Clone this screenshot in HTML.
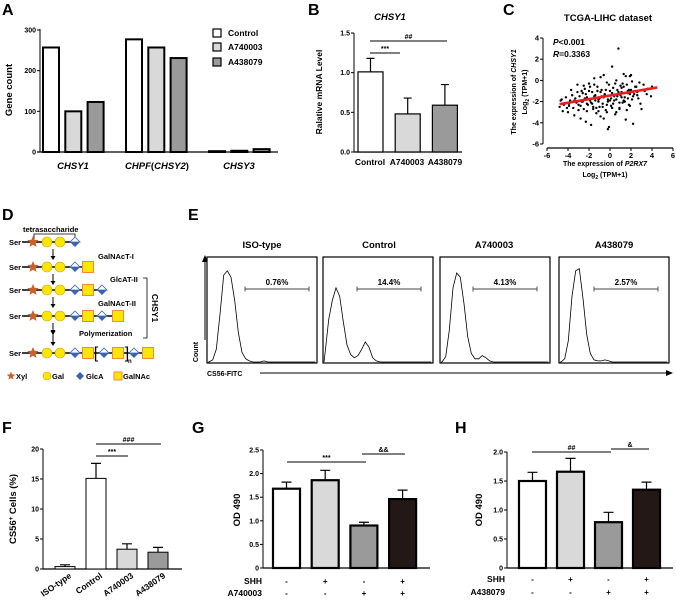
<!DOCTYPE html>
<html><head><meta charset="utf-8"><style>
html,body{margin:0;padding:0;background:#fff}
svg{display:block;font-family:"Liberation Sans",Arial,sans-serif;font-weight:bold}
.t7{font-size:7px}.t8{font-size:8.5px}.t9{font-size:9.5px}.L{font-size:16px}
</style></head><body>
<svg id="fig" width="676" height="603" viewBox="0 0 676 603">
<text class="L" x="2" y="15">A</text>
<text class="L" x="308" y="15">B</text>
<text class="L" x="503" y="15">C</text>
<text class="L" x="2" y="220">D</text>
<text class="L" x="188" y="220">E</text>
<text class="L" x="2" y="433">F</text>
<text class="L" x="192" y="433">G</text>
<text class="L" x="455" y="433">H</text>

<text class="t9" transform="translate(12,90) rotate(-90)" text-anchor="middle">Gene count</text>
<text class="t9" x="73" y="169" text-anchor="middle" font-style="italic">CHSY1</text>
<text class="t9" x="157" y="169" text-anchor="middle"><tspan font-style="italic">CHPF</tspan>(<tspan font-style="italic">CHSY2</tspan>)</text>
<text class="t9" x="239" y="169" text-anchor="middle" font-style="italic">CHSY3</text>
<g>
<rect x="213" y="29" width="8" height="8" fill="#fff" stroke="#000" stroke-width="1.2"/>
<text class="t8" x="228" y="36">Control</text>
<rect x="213" y="43" width="8" height="8" fill="#d9d9d9" stroke="#000" stroke-width="1.2"/>
<text class="t8" x="228" y="50">A740003</text>
<rect x="213" y="58" width="8" height="8" fill="#9a9a9a" stroke="#000" stroke-width="1.2"/>
<text class="t8" x="228" y="65">A438079</text>
</g>

<text class="t9" x="390" y="20" text-anchor="middle" font-style="italic">CHSY1</text>
<text class="t8" transform="translate(322,92) rotate(-90)" text-anchor="middle">Ralative mRNA Level</text>
<text class="t8" x="370" y="165" text-anchor="middle">Control</text>
<text class="t8" x="407" y="165" text-anchor="middle">A740003</text>
<text class="t8" x="445" y="165" text-anchor="middle">A438079</text>

<text class="t9" x="608" y="21" text-anchor="middle">TCGA-LIHC dataset</text>
<text class="t8" x="553" y="45"><tspan font-style="italic">P</tspan>&lt;0.001</text>
<text class="t8" x="553" y="57"><tspan font-style="italic">R</tspan>=0.3363</text>
<text class="t7" transform="translate(516,92) rotate(-90)" text-anchor="middle">The expression of <tspan font-style="italic">CHSY1</tspan></text>
<text class="t7" transform="translate(527,92) rotate(-90)" text-anchor="middle">Log<tspan font-size="5" dy="2">2</tspan><tspan dy="-2"> (TPM+1)</tspan></text>
<text class="t7" x="605" y="166" text-anchor="middle">The expression of <tspan font-style="italic">P2RX7</tspan></text>
<text class="t7" x="605" y="177" text-anchor="middle">Log<tspan font-size="5" dy="2">2</tspan><tspan dy="-2"> (TPM+1)</tspan></text>

<g font-size="7.5">
<text x="23" y="232">tetrasaccharide</text>
<path d="M34,239 V234 H75 V239" fill="none" stroke="#000" stroke-width="0.8"/>
<text x="98" y="259">GalNAcT-I</text>
<text x="110" y="282">GlcAT-II</text>
<text x="98" y="306">GalNAcT-II</text>
<text x="79" y="336">Polymerization</text>
<path d="M143,278 H147 V338 H143" fill="none" stroke="#000" stroke-width="0.8"/>
<text transform="translate(152,308) rotate(90)" text-anchor="middle" font-size="8.5">CHSY1</text>
<g id="dRows"></g>
<g>
<text x="16" y="379">Xyl</text>
<text x="52" y="379">Gal</text>
<text x="86" y="379">GlcA</text>
<text x="123" y="379">GalNAc</text>
</g>
</g>

<text class="t9" x="262" y="248" text-anchor="middle">ISO-type</text>
<text class="t9" x="379" y="248" text-anchor="middle">Control</text>
<text class="t9" x="494" y="248" text-anchor="middle">A740003</text>
<text class="t9" x="614" y="248" text-anchor="middle">A438079</text>
<text class="t7" transform="translate(198,352) rotate(-90)" text-anchor="middle">Count</text>
<path d="M205,340 V260" stroke="#000" stroke-width="1"/>
<path d="M202,262 L205,255 L208,262 Z" fill="#000"/>
<text class="t7" x="207" y="376">CS56-FITC</text>
<path d="M260,373 H668" stroke="#000" stroke-width="1"/>
<path d="M666,370 L673,373 L666,376 Z" fill="#000"/>

<text class="t9" transform="translate(16,509) rotate(-90)" text-anchor="middle">CS56<tspan font-size="6" dy="-3">+</tspan><tspan dy="3"> Cells (%)</tspan></text>
<text class="t8" transform="translate(72,577) rotate(-35)" text-anchor="end">ISO-type</text>
<text class="t8" transform="translate(103,577) rotate(-35)" text-anchor="end">Control</text>
<text class="t8" transform="translate(134,577) rotate(-35)" text-anchor="end">A740003</text>
<text class="t8" transform="translate(166,577) rotate(-35)" text-anchor="end">A438079</text>

<text class="t9" transform="translate(240,510) rotate(-90)" text-anchor="middle">OD 490</text>
<text class="t8" x="262" y="584" text-anchor="end">SHH</text>
<text class="t8" x="262" y="596" text-anchor="end">A740003</text>

<text class="t9" x="482" y="510" transform="rotate(-90,482,510)" text-anchor="middle">OD 490</text>
<text class="t8" x="505" y="582" text-anchor="end">SHH</text>
<text class="t8" x="505" y="595" text-anchor="end">A438079</text>
</svg>

<script>
const aGenes = ["CHSY1","CHPF(CHSY2)","CHSY3"];
const aControl = [257, 277, 2];
const aA740003 = [100, 257, 3];
const aA438079 = [123, 231, 7];
const aTicks = [0,100,200,300];
const bCategories = ["Control","A740003","A438079"];
const bMeans = [1.01, 0.48, 0.59];
const bErrors = [0.17, 0.20, 0.26];
const bTicks = [0, 0.5, 1.0, 1.5];
const bTickLabels = ["0.0","0.5","1.0","1.5"];
const cX1 = [-4.8,-4.6,-4.5,-4.3,-4.2,-4.0,-3.9,-3.8,-3.7,-3.5,-3.4,-3.3,-3.2,-3.1,-3.0,-2.9,-2.8,-2.7,-2.6,-2.5,-2.4,-2.3,-2.2,-2.1,-2.0,-1.9,-1.8,-1.7,-1.6,-1.5,-1.4,-1.3,-1.2,-1.1,-1.0,-0.9,-0.8,-0.7,-0.6,-0.5,-0.4,-0.3,-0.2,-0.1,0.0,0.1,0.2,0.3,0.4,0.5,0.6,0.7,0.8,0.9,1.0,1.1,1.2,1.3,1.4,1.5,1.6,1.7,1.8,1.9,2.0,2.1,2.2,2.4,2.6,2.8,3.0,3.3,3.6,4.0];
const cY1 = [-2.5,-1.8,-2.9,-2.2,-1.6,-3.0,-2.4,-1.9,-0.9,-2.6,-3.3,-1.7,-2.1,-0.4,-2.8,-1.5,-3.6,-2.0,-1.2,-2.7,-0.8,-3.9,-1.6,-2.3,-0.3,-1.9,-4.2,-1.1,-2.5,0.2,-1.4,-3.1,-0.6,-2.0,-1.7,-3.4,-0.9,-2.2,0.5,-1.3,-2.8,-0.2,-1.8,-4.4,-1.0,-2.4,1.3,-0.7,-1.9,-3.2,0.0,-1.5,3.0,-2.6,-0.5,-1.1,-2.1,0.6,-1.6,-3.7,-0.4,-1.2,-2.3,0.4,-0.9,-1.8,-4.1,-0.6,-1.4,-0.2,-2.7,-1.0,-0.8,-0.6];
const cX2 = [-4.7,-4.4,-4.1,-3.6,-3.3,-3.0,-2.7,-2.4,-2.2,-1.9,-1.7,-1.5,-1.3,-1.1,-0.9,-0.7,-0.5,-0.3,-0.1,0.1,0.3,0.5,0.7,0.9,1.1,1.3,1.5,1.7,1.9,2.1,2.3,2.5,2.7,2.9,3.2,3.5,3.9,-2.5,-1.2,-0.6,0.2,0.8,1.2,1.6,2.0,-3.8,-0.2,0.6,1.4,2.2];
const cY2 = [-1.9,-2.3,-2.6,-1.4,-2.0,-2.3,-1.0,-1.7,-2.9,-0.6,-2.2,-1.5,-2.6,-1.8,0.3,-2.5,-1.4,-3.0,-0.4,-1.7,-2.2,-0.3,-1.3,-2.7,-0.7,-1.9,0.4,-1.0,-2.4,-0.1,-1.3,-0.6,-1.7,-2.2,-0.4,-1.3,-1.5,-0.5,-1.0,-3.6,-2.6,-1.1,-0.3,-2.8,0.5,-1.9,-4.6,-3.0,-2.0,-1.1];
const cX3 = [-3.9,-3.4,-2.8,-2.3,-1.8,-1.4,-1.0,-0.6,-0.2,0.2,0.6,1.0,1.4,1.8,2.2,2.6,-2.0,-1.6,-0.8,-0.4,0.4,0.9,1.3,1.7,-3.1,-2.6,-1.1,0.0,1.1,2.4,-1.5,-0.3,0.7,1.9,-2.2,-0.9];
const cY3 = [-2.2,-1.9,-2.4,-1.3,-2.1,-1.9,-2.5,-1.6,-2.0,-1.2,-1.8,-1.4,-2.0,-0.9,-1.5,-1.1,-1.0,-2.7,-1.5,-0.9,-1.5,-2.1,-0.6,-1.7,-1.1,-2.0,-2.9,-1.9,-1.6,-1.0,-0.4,-2.3,-0.9,-1.3,-2.2,-1.1];
const cFit = [0.17, -1.43];
const cFitRange = [-4.8, 4.5];
const cXTicks = [-6,-4,-2,0,2,4,6];
const cYTicks = [4,2,0,-2,-4,-6];
const eNames = ["ISO-type","Control","A740003","A438079"];
const eIso = [0,2,12,45,82,86,80,58,28,9,3,1,0,0,0,1,0,0,0,0,0,0,0,0,0,0,0,0,0,0];
const eControl = [8,40,58,70,62,38,16,7,4,6,12,19,14,4,1,0,0,0,0,0,0,0,0,0,0,0,0,0,0,0];
const eA740003 = [0,5,30,70,84,80,55,24,8,3,3,6,4,1,0,0,0,0,0,0,0,0,0,0,0,0,0,0,0,0];
const eA438079 = [0,3,20,62,86,88,60,26,8,2,1,1,2,1,0,0,0,0,0,0,0,0,0,0,0,0,0,0,0,0];
const ePercents = ["0.76%","14.4%","4.13%","2.57%"];
const fCategories = ["ISO-type","Control","A740003","A438079"];
const fMeans = [0.4, 15.1, 3.3, 2.8];
const fErrors = [0.3, 2.5, 0.9, 0.8];
const fTicks = [0,5,10,15,20];
const gMeans = [1.68, 1.86, 0.90, 1.46];
const gErrors = [0.14, 0.21, 0.07, 0.19];
const gTicks = [0,0.5,1.0,1.5,2.0,2.5];
const gTickLabels = ["0","0.5","1.0","1.5","2.0","2.5"];
const gSHH = ["-","+","-","+"];
const gDrug = ["-","-","+","+"];
const hMeans = [1.50, 1.66, 0.79, 1.35];
const hErrors = [0.15, 0.23, 0.17, 0.13];
const hTicks = [0,0.5,1.0,1.5,2.0];
const hTickLabels = ["0","0.5","1.0","1.5","2.0"];
const hSHH = ["-","+","-","+"];
const hDrug = ["-","-","+","+"];

const NS="http://www.w3.org/2000/svg";
const svg=document.getElementById('fig');
function mk(tag,attrs,parent){const e=document.createElementNS(NS,tag);for(const k in attrs)e.setAttribute(k,attrs[k]);(parent||svg).appendChild(e);return e;}
function txt(s,attrs,parent){const e=mk('text',attrs,parent);e.textContent=s;return e;}

function yAxis(x,scale,ticks,labels,top,bottom,fs){
  const l=mk('line',{x1:x,y1:top,x2:x,y2:bottom,stroke:'#000','stroke-width':1});
  
  
  ticks.forEach((t,i)=>{const y=scale(t);
    mk('line',{x1:x-3,y1:y,x2:x,y2:y,stroke:'#000','stroke-width':1});
    const tl=txt(labels[i],{x:x-4,y:y+2.5,'text-anchor':'end','font-size':fs||7});
    
    
  });
}
function xAxis(y,x1,x2){
  const l=mk('line',{x1:x1,y1:y,x2:x2,y2:y,stroke:'#000','stroke-width':1.2});
  
  
}
function bar(x,w,v,scale,fill,sw){
  const y0=scale(0),y=scale(v);
  const r=mk('rect',{x:x,y:y,width:w,height:Math.max(0,y0-y),fill:fill,stroke:'#000','stroke-width':sw});
  
  
  return r;
}
function err(cx,v,e,scale,cap){
  const y=scale(v),ye=scale(v+e);
  const p=mk('path',{d:`M${cx},${y} V${ye} M${cx-cap},${ye} H${cx+cap}`,stroke:'#000','stroke-width':1.2,fill:'none'});
  
  
}
function sig(x1,x2,y,label){
  const l=mk('line',{x1:x1,y1:y,x2:x2,y2:y,stroke:'#000','stroke-width':0.9});
  
  
  const t=txt(label,{x:(x1+x2)/2,y:y-2,'text-anchor':'middle','font-size':7});
  
  
}

(function(){
  const sc=v=>152-v/300*122;
  yAxis(40,sc,aTicks,aTicks.map(String),29,152,7);
  xAxis(152,37,278);
  const series=[aControl,aA740003,aA438079], fills=['#fff','#d9d9d9','#9a9a9a'];
  aGenes.forEach((g,gi)=>{
    series.forEach((s,si)=>{
      const b=bar(43+gi*83+si*22.3,16,s[gi],sc,fills[si],2);
      
    });
  });
})();

(function(){
  const sc=v=>152-v/1.5*119;
  yAxis(354,sc,bTicks,bTickLabels,33,152,7);
  xAxis(152,354,462);
  const fills=['#fff','#d9d9d9','#9a9a9a'];
  bCategories.forEach((c,i)=>{
    const x=358+i*37.2;
    const b=bar(x,25,bMeans[i],sc,fills[i],1.2);
    
    err(x+12.5,bMeans[i],bErrors[i],sc,4);
  });
  sig(370,400,53,'***');
  sig(370,447,41,'##');
})();

(function(){
  const sx=v=>610+v*10.5, sy=v=>80.4-v*10.6;
  yAxis(543,sy,cYTicks,cYTicks.map(String),sy(4),sy(-6),7.5);
  xAxis(148,sx(-6),sx(6));
  cXTicks.forEach(t=>{mk('line',{x1:sx(t),y1:148,x2:sx(t),y2:151,stroke:'#000'});
    const tl=txt(String(t),{x:sx(t),y:158,'text-anchor':'middle','font-size':7.5});
    
    });
  const g=mk('g',{});
  
  
  [[cX1,cY1],[cX2,cY2],[cX3,cY3]].forEach(([xs,ys])=>{
    const n=Math.min(xs.length,ys.length);
    for(let i=0;i<n;i++){const c=mk('circle',{cx:sx(xs[i]),cy:sy(ys[i]),r:1.2,fill:'#000'},g);
      
      }
  });
  const l=mk('line',{x1:sx(cFitRange[0]),y1:sy(cFit[0]*cFitRange[0]+cFit[1]),x2:sx(cFitRange[1]),y2:sy(cFit[0]*cFitRange[1]+cFit[1]),stroke:'#e8201f','stroke-width':2.6});
  
  
})();

(function(){
  const g=document.getElementById('dRows');
  const star=(cx,cy,r)=>{let d='';for(let i=0;i<10;i++){const a=-Math.PI/2+i*Math.PI/5,rr=i%2?r*0.45:r;d+=(i?'L':'M')+(cx+rr*Math.cos(a)).toFixed(1)+','+(cy+rr*Math.sin(a)).toFixed(1);}
    mk('path',{d:d+'Z',fill:'#c8612a'},g);};
  const circ=(cx,cy)=>mk('circle',{cx:cx,cy:cy,r:5,fill:'#ffe600',stroke:'#c9a100','stroke-width':0.6},g);
  const dia=(cx,cy)=>{mk('path',{d:`M${cx},${cy-5}L${cx+5},${cy}L${cx-5},${cy}Z`,fill:'#fff',stroke:'#3a63b0','stroke-width':0.8},g);
    mk('path',{d:`M${cx-5},${cy}L${cx+5},${cy}L${cx},${cy+5}Z`,fill:'#3a63b0'},g);};
  const sq=(cx,cy)=>mk('rect',{x:cx-5.5,y:cy-5.5,width:11,height:11,fill:'#ffe600',stroke:'#f08a3c','stroke-width':1},g);
  const rows=[242,267,290,316,353];
  const layouts=[
    [['D',75]],
    [['D',75],['S',88]],
    [['D',75],['S',88],['D',102]],
    [['D',75],['S',88],['D',102],['S',118]],
    [['D',75],['S',88],['[',96],['D',104],['S',118],[']',127],['D',134],['S',148]]
  ];
  rows.forEach((y,ri)=>{
    const s=txt('Ser',{x:9,y:y+3,'font-size':7.5},g);
    
    
    const items=layouts[ri];
    const last=items[items.length-1][1];
    mk('line',{x1:22,y1:y,x2:last,y2:y,stroke:'#000','stroke-width':1.6},g);
    star(33,y,6);circ(47,y);circ(60,y);
    items.forEach(([k,cx])=>{ if(k==='D')dia(cx,y); else if(k==='S')sq(cx,y);
      else txt(k,{x:cx,y:y+5,'font-size':16,'text-anchor':'middle','font-weight':'normal'},g);});
    if(ri===4) txt('n',{x:128,y:y+10,'font-size':6},g);
    if(ri<4){ mk('path',{d:`M53,${y+7}V${y+16}`,stroke:'#000','stroke-width':1},g);
      mk('path',{d:`M50.5,${y+14}L53,${y+18}L55.5,${y+14}Z`,fill:'#000'},g);}
  });
  mk('path',{d:'M53,323V345',stroke:'#000','stroke-width':1},g);
  mk('path',{d:'M50.5,331L53,335L55.5,331Z M50.5,342L53,346L55.5,342Z',fill:'#000'},g);
  star(11,376,4.5);
  mk('circle',{cx:47,cy:376,r:4,fill:'#ffe600',stroke:'#c9a100','stroke-width':0.6},g);
  mk('path',{d:'M80,372L84,376L80,380L76,376Z',fill:'#3a63b0'},g);
  mk('rect',{x:114,y:372,width:8,height:8,fill:'#ffe600',stroke:'#f08a3c'},g);
})();

(function(){
  const boxes=[207,323,440,559], w=110, top=257, bot=363;
  const hists=[eIso,eControl,eA740003,eA438079];
  const gates=[[245,309],[357,421],[473,537],[594,658]];
  boxes.forEach((bx,i)=>{
    const r=mk('rect',{x:bx,y:top,width:w,height:bot-top,fill:'#fff',stroke:'#000','stroke-width':1.2});
    
    
    const h=hists[i], bw=w/h.length;
    let d=`M${bx+1},${bot-1}`;
    h.forEach((v,j)=>{d+=` L${(bx+2+j*bw).toFixed(1)},${(bot-1-v/100*(bot-top)).toFixed(1)}`;});
    const p=mk('path',{d:d,fill:'none',stroke:'#000','stroke-width':0.8});
    
    
    const [g1,g2]=gates[i];
    mk('path',{d:`M${g1},289H${g2}M${g1},286.5V291.5M${g2},286.5V291.5`,stroke:'#444','stroke-width':0.9,fill:'none'});
    const t=txt(ePercents[i],{x:(g1+g2)/2,y:285,'text-anchor':'middle','font-size':8});
    
    
  });
})();

(function(){
  const sc=v=>569-v/20*120;
  yAxis(43,sc,fTicks,fTicks.map(String),449,569,7);
  xAxis(569,43,182);
  const fills=['#fff','#fff','#d9d9d9','#9a9a9a'];
  fCategories.forEach((c,i)=>{
    const x=55+i*31;
    const b=bar(x,20,fMeans[i],sc,fills[i],1);
    
    err(x+10,fMeans[i],fErrors[i],sc,5);
  });
  sig(96,128,456,'***');
  sig(96,161,444,'###');
})();

function ptPanel(ax,base,topPix,maxV,ticks,labels,means,errs,x0,pitch,shh,drug,rowY1,rowY2,xEnd){
  const sc=v=>base-v/maxV*(base-topPix);
  yAxis(ax,sc,ticks,labels,topPix,base,7);
  xAxis(base,ax,xEnd);
  const fills=['#fff','#d9d9d9','#9a9a9a','#231815'];
  means.forEach((m,i)=>{
    const x=x0+i*pitch;
    bar(x,27,m,sc,fills[i],2.2);
    err(x+13.5,m,errs[i],sc,5);
    const a=txt(shh[i],{x:x+13.5,y:rowY1,'text-anchor':'middle','font-size':8});
    
    
    const b=txt(drug[i],{x:x+13.5,y:rowY2,'text-anchor':'middle','font-size':8});
    
    
  });
}
ptPanel(263,568,450,2.5,gTicks,gTickLabels,gMeans,gErrors,273,38.7,gSHH,gDrug,584,596,430);
sig(287,366,462,'***');
sig(362,405,454,'&&');
ptPanel(507,568,452,2.0,hTicks,hTickLabels,hMeans,hErrors,519,38,hSHH,hDrug,582,595,673);
sig(532,611,452,'##');
sig(611,649,449,'&');
</script>
</body></html>
